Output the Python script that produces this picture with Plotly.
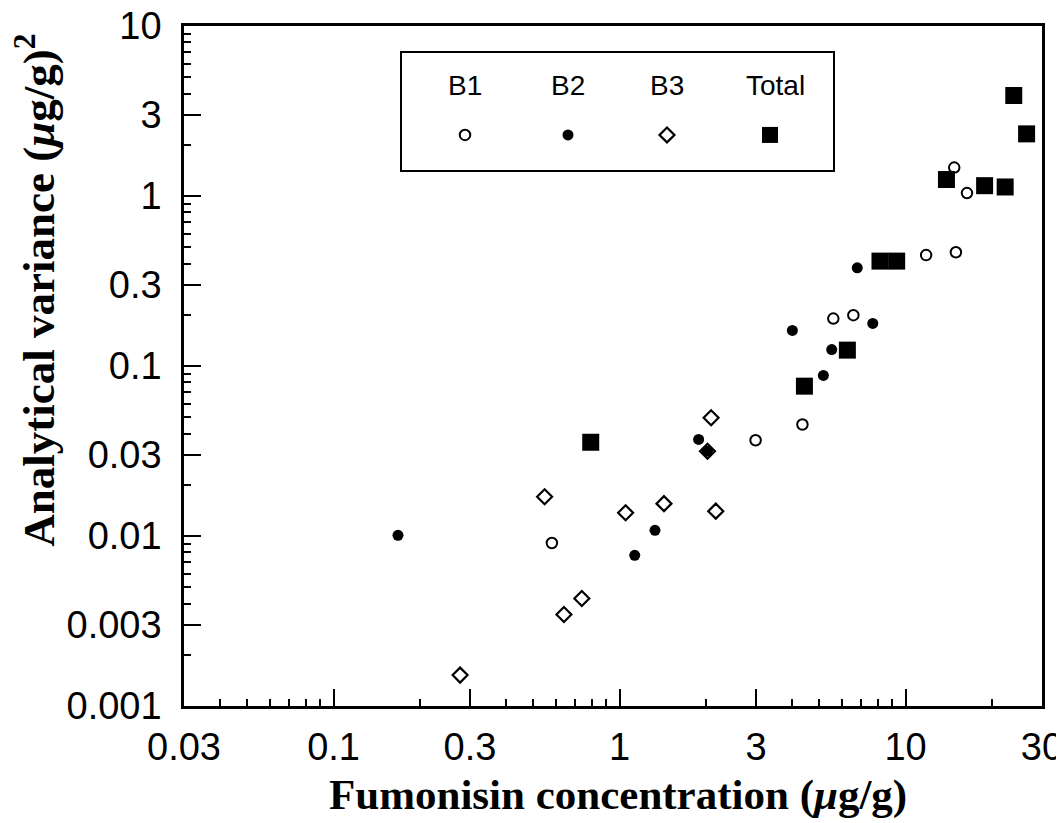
import plotly.graph_objects as go

# ---------------- data ----------------
b1_x = [2.99, 0.58, 14.8, 16.4, 11.8, 15.0, 5.59, 6.57, 4.36]
b1_y = [0.0366, 0.0091, 1.47, 1.04, 0.449, 0.467, 0.190, 0.199, 0.0453]

b2_x = [0.168, 1.89, 2.03, 1.33, 1.13, 6.78, 7.68, 4.02, 5.52, 5.16]
b2_y = [0.0101, 0.037, 0.0315, 0.0108, 0.0077, 0.378, 0.178, 0.162, 0.125, 0.088]

b3_x = [2.09, 2.03, 0.547, 1.05, 1.43, 2.17, 0.738, 0.639, 0.277]
b3_y = [0.0496, 0.0315, 0.0170, 0.0137, 0.0155, 0.0140, 0.00429, 0.00345, 0.00152]

tot_x = [0.793, 23.9, 26.5, 13.9, 18.9, 22.3, 8.14, 9.31, 6.26, 4.43]
tot_y = [0.0356, 3.90, 2.32, 1.25, 1.15, 1.13, 0.414, 0.414, 0.124, 0.0761]

x_ticks = [0.03, 0.1, 0.3, 1, 3, 10, 30]
x_ticktext = ["0.03", "0.1", "0.3", "1", "3", "10", "30"]
x_minor = [0.04, 0.05, 0.06, 0.07, 0.08, 0.09, 0.2, 0.4, 0.5, 0.6, 0.7, 0.8, 0.9,
           2, 4, 5, 6, 7, 8, 9, 20]
y_ticks = [0.001, 0.003, 0.01, 0.03, 0.1, 0.3, 1, 3, 10]
y_ticktext = ["0.001", "0.003", "0.01", "0.03", "0.1", "0.3", "1", "3", "10"]
y_minor = [0.002, 0.004, 0.005, 0.006, 0.007, 0.008, 0.009, 0.02,
           0.04, 0.05, 0.06, 0.07, 0.08, 0.09, 0.2,
           0.4, 0.5, 0.6, 0.7, 0.8, 0.9, 2, 4, 5, 6, 7, 8, 9]

legend_labels = ["B1", "B2", "B3", "Total"]

# ---------------- layout geometry ----------------
# the page body has an 8px margin, so the figure is drawn 8px smaller and
# all page-pixel positions are shifted by that offset
OFF = 8
W, H = 1064 - OFF, 823 - OFF
PLOT_L, PLOT_R, PLOT_T, PLOT_B = 184, 1042, 26, 706.5   # page pixels
ML, MT = PLOT_L - OFF, PLOT_T - OFF
MR = W - (PLOT_R - OFF)
MB = H - (PLOT_B - OFF)
PW = PLOT_R - PLOT_L
PH = PLOT_B - PLOT_T


def px(x):
    return (x - PLOT_L) / PW


def py(y):
    return (PLOT_B - y) / PH


sans = "Liberation Sans, Arial, Helvetica, sans-serif"
serif = "Liberation Serif, Times New Roman, serif"

fig = go.Figure()

fig.add_trace(go.Scatter(x=b1_x, y=b1_y, mode="markers", name="B1",
                         marker=dict(symbol="circle-open", size=10.5, color="black",
                                     line=dict(width=2, color="black"))))
fig.add_trace(go.Scatter(x=b2_x, y=b2_y, mode="markers", name="B2",
                         marker=dict(symbol="circle", size=11, color="black")))
fig.add_trace(go.Scatter(x=b3_x, y=b3_y, mode="markers", name="B3",
                         marker=dict(symbol="diamond-open", size=11.5, color="black",
                                     line=dict(width=2.2, color="black"))))
fig.add_trace(go.Scatter(x=tot_x, y=tot_y, mode="markers", name="Total",
                         marker=dict(symbol="square", size=17, color="black")))

# ---------------- legend key (a box with labels above the symbols) ----------------
leg_px = [465, 568, 667, 770]
leg_text_px = [465, 568, 667, 775]
leg_symbols = ["circle-open", "circle", "diamond-open", "square"]
leg_sizes = [10.5, 11, 11.5, 16]
leg_lw = [2, 0, 2.2, 0]
for xv, sym, sz, lw in zip(leg_px, leg_symbols, leg_sizes, leg_lw):
    fig.add_trace(go.Scatter(
        x=[px(xv)], y=[py(135)], mode="markers",
        xaxis="x2", yaxis="y2", hoverinfo="skip",
        marker=dict(symbol=sym, size=sz, color="black", opacity=1,
                    line=dict(width=lw, color="black"))))

fig.add_shape(type="rect", xref="paper", yref="paper",
              x0=px(401), x1=px(834), y0=py(171), y1=py(52),
              line=dict(color="black", width=2), fillcolor="rgba(0,0,0,0)")

for lab, xv in zip(legend_labels, leg_text_px):
    fig.add_annotation(text=lab, xref="paper", yref="paper", x=px(xv), y=py(86),
                       showarrow=False, xanchor="center", yanchor="middle",
                       font=dict(family=sans, size=28, color="black"))

# ---------------- axis titles ----------------
fig.add_annotation(text="<b>Fumonisin concentration (<i>μ</i>g/g)</b>", xref="paper", yref="paper",
                   x=px(618), y=py(796), showarrow=False, xanchor="center", yanchor="middle",
                   font=dict(family=serif, size=43, color="black"))
fig.add_annotation(text="<b>Analytical variance (<i>μ</i>g/g)<sup>2</sup></b>", xref="paper", yref="paper",
                   x=px(36), y=py(291), showarrow=False, xanchor="center", yanchor="middle",
                   textangle=-90,
                   font=dict(family=serif, size=45, color="black"))

axis_common = dict(
    type="log", showgrid=False, zeroline=False,
    showline=True, linecolor="black", linewidth=2.5, mirror=True,
    ticks="inside", ticklen=17, tickwidth=2, tickcolor="black",
    tickfont=dict(family=sans, size=38, color="black"),
    automargin=False, ticklabeloverflow="allow",
)

fig.update_layout(
    width=W, height=H,
    margin=dict(l=ML, r=MR, t=MT, b=MB),
    paper_bgcolor="white", plot_bgcolor="white",
    showlegend=False,
    xaxis=dict(range=[-1.5229, 1.4771], tickmode="array", tickvals=x_ticks,
               ticktext=x_ticktext, ticklabelstandoff=6,
               minor=dict(tickmode="array", tickvals=x_minor, ticks="inside",
                          ticklen=7, tickwidth=2, tickcolor="black", showgrid=False),
               **axis_common),
    yaxis=dict(range=[-3, 1], tickmode="array", tickvals=y_ticks,
               ticktext=y_ticktext, ticklabelstandoff=12,
               minor=dict(tickmode="array", tickvals=y_minor, ticks="inside",
                          ticklen=7, tickwidth=2, tickcolor="black", showgrid=False),
               **axis_common),
    xaxis2=dict(overlaying="x", range=[0, 1], visible=False, fixedrange=True),
    yaxis2=dict(overlaying="y", range=[0, 1], visible=False, fixedrange=True),
)

fig.write_html("out.html")
